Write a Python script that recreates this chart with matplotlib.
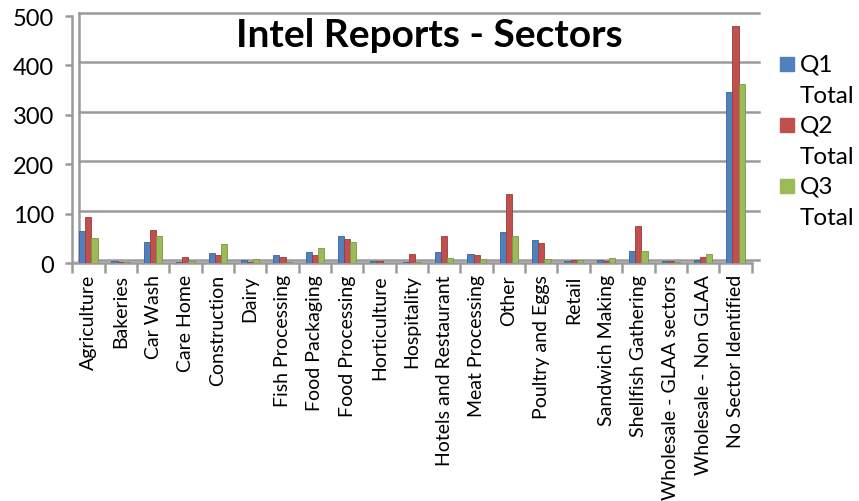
import matplotlib
matplotlib.use('Agg')
import matplotlib.pyplot as plt
import matplotlib.transforms as mtransforms
from matplotlib.patches import Rectangle
import numpy as np

# Data
sectors = [
    "Agriculture", "Bakeries", "Car Wash", "Care Home", "Construction",
    "Dairy", "Fish Processing", "Food Packaging", "Food Processing",
    "Horticulture", "Hospitality", "Hotels and Restaurant", "Meat Processing",
    "Other", "Poultry and Eggs", "Retail", "Sandwich Making",
    "Shellfish Gathering", "Wholesale - GLAA sectors", "Wholesale - Non GLAA",
    "No Sector Identified",
]
q1_total = [65, 5, 42, 3, 21, 7, 16, 22, 54, 5, 2, 23, 19, 63, 46, 4, 7, 24, 5, 7, 346]
q2_total = [94, 2, 66, 12, 16, 2, 12, 17, 48, 5, 18, 55, 17, 139, 40, 6, 4, 74, 5, 12, 480]
q3_total = [51, 2, 55, 5, 39, 9, 2, 30, 42, 1, 2, 10, 9, 54, 8, 6, 11, 24, 2, 18, 363]
series_names = ["Q1\nTotal", "Q2\nTotal", "Q3\nTotal"]
y_ticks = [0, 100, 200, 300, 400, 500]

colors = ['#4F81BD', '#C0504D', '#9BBB59']
edges = ['#3A6496', '#9A3B38', '#7A9645']
font = 'Lato'
grid_col = '#9A9A9A'

fig = plt.figure(figsize=(8.59, 5.02), dpi=100, facecolor='white')
ax = fig.add_axes([0.084, 0.474, 0.791, 0.492])

x = np.arange(len(sectors))
width = 0.19
for k, vals in enumerate([q1_total, q2_total, q3_total]):
    ax.bar(x + (k - 1) * width, vals, width, color=colors[k], edgecolor=edges[k],
           linewidth=0.6, zorder=3)

ax.set_xlim(-0.5, len(sectors) - 0.5)
ax.set_ylim(0, 500)

# back wall gridlines, shifted like the 3D look of the original
back = mtransforms.offset_copy(ax.transData, fig=fig, x=7, y=3, units='dots')
for v in y_ticks:
    ax.plot([-0.5, len(sectors) - 0.5], [v, v], color=grid_col, lw=1.8,
            transform=back, clip_on=False, zorder=1)
# back wall left edge and floor
ax.plot([-0.5, -0.5], [0, 500], color=grid_col, lw=1.8, transform=back,
        clip_on=False, zorder=1)
ax.plot([-0.5, len(sectors) - 0.5], [0, 0], color=grid_col, lw=1.8,
        clip_on=False, zorder=2)
ax.fill_between([-0.5, len(sectors) - 0.5], 0, 5, color='#D9D9D9', zorder=0)

for side in ['top', 'right', 'bottom']:
    ax.spines[side].set_visible(False)
ax.spines['left'].set_color(grid_col)
ax.spines['left'].set_linewidth(1.8)

ax.set_yticks(y_ticks)
ax.set_yticklabels([str(v) for v in y_ticks], fontsize=17, family=font)
ax.tick_params(axis='y', length=5, width=1.8, color=grid_col, pad=8)

ax.set_xticks(x)
ax.set_xticklabels(sectors, rotation=90, fontsize=14, family=font)
ax.tick_params(axis='x', length=0, pad=8)
ax.set_xticks(np.arange(-0.5, len(sectors)), minor=True)
ax.tick_params(axis='x', which='minor', length=7, width=1.8, color=grid_col)

fig.text(0.50, 0.93, "Intel Reports - Sectors", fontsize=28, fontweight='bold',
         family=font, ha='center', va='center')

# legend, marker aligned with the first line of each label
for k, name in enumerate(series_names):
    yc = 0.8705 - k * 0.1215
    fig.patches.append(Rectangle((0.908, yc - 0.014), 0.016, 0.028,
                                 transform=fig.transFigure, color=colors[k]))
    for j, line in enumerate(name.split('\n')):
        fig.text(0.931, yc - j * 0.062, line, fontsize=17.5, family=font,
                 va='center', ha='left')

plt.savefig('out.png', dpi=100, facecolor='white')
plt.close()
